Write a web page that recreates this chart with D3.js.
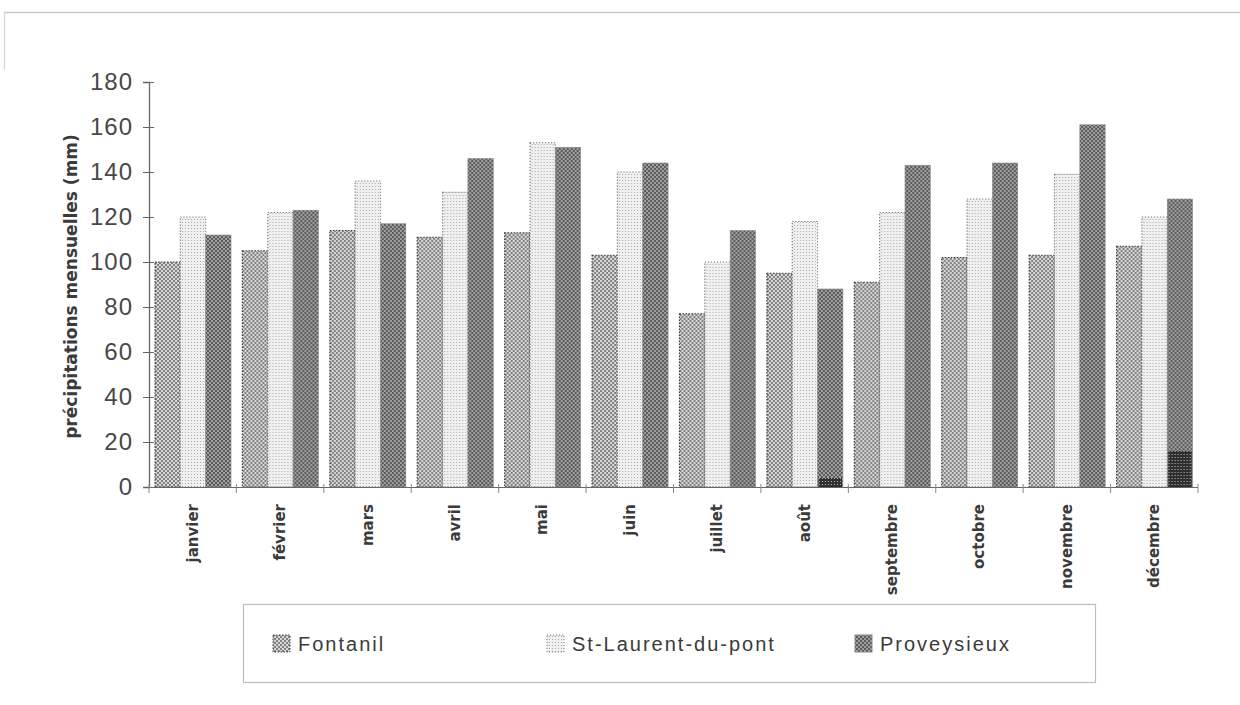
<!DOCTYPE html>
<html lang="fr">
<head>
<meta charset="utf-8">
<script src="https://cdn.jsdelivr.net/npm/d3@7"></script>
<style>
  html, body { margin: 0; padding: 0; background: #fff; }
  svg { display: block; }
</style>
</head>
<body>
<svg id="chart" width="1240" height="705"></svg>
<script>
// Précipitations mensuelles moyennes (mm) pour trois stations
const mois = ["janvier", "février", "mars", "avril", "mai", "juin",
              "juillet", "août", "septembre", "octobre", "novembre", "décembre"];
const stations = ["Fontanil", "St-Laurent-du-pont", "Proveysieux"];
const fontanil = [100, 105, 114, 111, 113, 103, 77, 95, 91, 102, 103, 107];
const stLaurent = [120, 122, 136, 131, 153, 140, 100, 118, 122, 128, 139, 120];
const proveysieux = [112, 123, 117, 146, 151, 144, 114, 88, 143, 144, 161, 128];
// petites portions sombres au pied des barres de Proveysieux
const proveysieuxBase = [0, 0, 0, 0, 0, 0, 0, 4, 0, 0, 0, 16];
const yTicks = [0, 20, 40, 60, 80, 100, 120, 140, 160, 180];

const serie = [fontanil, stLaurent, proveysieux];

const svg = d3.select("#chart");
const defs = svg.append("defs");

// Trames en demi-teinte pour chaque station
function trame(id, size, bg, dots, fg) {
  const p = defs.append("pattern").attr("id", id)
    .attr("patternUnits", "userSpaceOnUse")
    .attr("width", size).attr("height", size);
  p.append("rect").attr("width", size).attr("height", size).attr("fill", bg);
  dots.forEach(d => p.append("rect")
    .attr("x", d[0]).attr("y", d[1]).attr("width", d[2]).attr("height", d[2])
    .attr("fill", fg));
}
trame("t-fontanil", 4, "#d8d8d8", [[0, 0, 2], [2, 2, 2]], "#828282");
trame("t-stlaurent", 3, "#f0f0f0", [[0, 0, 1]], "#a9a9a9");
trame("t-proveysieux", 4, "#a0a0a0", [[0, 0, 2], [2, 2, 2]], "#5a5a5a");
trame("t-base", 3, "#2e2e2e", [[1, 1, 1]], "#bdbdbd");

const fills = ["url(#t-fontanil)", "url(#t-stlaurent)", "url(#t-proveysieux)"];
const strokes = ["#3c3c3c", "#777", "#8a8a8a"];
const dashes = ["1.5,1.5", "1.2,1.8", null];

// Cadre léger autour du graphique
svg.append("line").attr("x1", 4).attr("x2", 1240).attr("y1", 12.5).attr("y2", 12.5)
  .attr("stroke", "#c8c8c8").attr("stroke-width", 1.5);
svg.append("line").attr("x1", 4.5).attr("x2", 4.5).attr("y1", 12).attr("y2", 70)
  .attr("stroke", "#d6d6d6").attr("stroke-width", 1.2);

const plotLeft = 149, plotRight = 1198, plotTop = 82, plotBottom = 487;

const x0 = d3.scaleBand().domain(mois).range([plotLeft, plotRight]).padding(0);
const x1 = d3.scaleBand().domain(d3.range(3)).range([6, 82]).padding(0);
const y = d3.scaleLinear().domain([0, 180]).range([plotBottom, plotTop]);

// Barres
const groupes = svg.append("g").selectAll("g").data(mois).join("g")
  .attr("transform", d => `translate(${x0(d)},0)`);

groupes.selectAll("rect.barre")
  .data((m, i) => serie.map((s, k) => ({ k, v: s[i] })))
  .join("rect")
  .attr("class", "barre")
  .attr("x", d => x1(d.k))
  .attr("width", x1.bandwidth())
  .attr("y", d => y(d.v))
  .attr("height", d => y(0) - y(d.v))
  .attr("fill", d => fills[d.k])
  .attr("stroke", d => strokes[d.k])
  .attr("stroke-width", d => d.k === 2 ? 0.6 : 1.2)
  .attr("stroke-dasharray", d => dashes[d.k]);

groupes.filter((m, i) => proveysieuxBase[i] > 0)
  .append("rect")
  .attr("x", x1(2) + 1)
  .attr("width", x1.bandwidth() - 2)
  .attr("y", m => y(proveysieuxBase[mois.indexOf(m)]))
  .attr("height", m => y(0) - y(proveysieuxBase[mois.indexOf(m)]))
  .attr("fill", "url(#t-base)");

// Axe des ordonnées
const yAxis = svg.append("g")
  .attr("transform", `translate(${plotLeft},0)`)
  .call(d3.axisLeft(y).tickValues(yTicks).tickSize(6).tickPadding(10));
yAxis.select(".domain").attr("stroke", "#666").attr("stroke-width", 1.3);
yAxis.selectAll(".tick line").attr("x1", 5).attr("stroke", "#666");
yAxis.selectAll(".tick text")
  .attr("font-family", "'Liberation Sans', Arial, sans-serif")
  .attr("font-size", 24)
  .attr("letter-spacing", 1)
  .attr("fill", "#484848");

// Axe des abscisses
svg.append("line").attr("x1", plotLeft).attr("x2", plotRight)
  .attr("y1", plotBottom + 0.5).attr("y2", plotBottom + 0.5)
  .attr("stroke", "#666").attr("stroke-width", 1.2);
svg.append("g").selectAll("line")
  .data(d3.range(mois.length + 1))
  .join("line")
  .attr("x1", i => i < mois.length ? x0(mois[i]) : plotRight)
  .attr("x2", i => i < mois.length ? x0(mois[i]) : plotRight)
  .attr("y1", plotBottom - 3).attr("y2", plotBottom + 6)
  .attr("stroke", "#888");

svg.append("g").selectAll("text")
  .data(mois).join("text")
  .attr("transform", d => `translate(${x0(d) + x0.bandwidth() / 2 + 5},${plotBottom + 17}) rotate(-90)`)
  .attr("text-anchor", "end")
  .attr("font-family", "'DejaVu Sans', Verdana, sans-serif")
  .attr("font-size", 15)
  .attr("font-weight", "bold")
  .attr("fill", "#3a3a3a")
  .text(d => d);

// Titre de l'axe vertical
svg.append("text")
  .attr("transform", `translate(77,${(plotTop + plotBottom) / 2 + 2}) rotate(-90)`)
  .attr("text-anchor", "middle")
  .attr("font-family", "'DejaVu Sans', Verdana, sans-serif")
  .attr("font-size", 17)
  .attr("font-weight", "bold")
  .attr("fill", "#3a3a3a")
  .text("précipitations mensuelles (mm)");

// Légende
const leg = svg.append("g");
leg.append("rect").attr("x", 243.5).attr("y", 604.5).attr("width", 852).attr("height", 78)
  .attr("fill", "none").attr("stroke", "#bdbdbd").attr("stroke-width", 1.2);
const legX = [273, 547, 855];
stations.forEach((s, k) => {
  leg.append("rect").attr("x", legX[k]).attr("y", 635).attr("width", 17).attr("height", 17)
    .attr("fill", fills[k]).attr("stroke", strokes[k]).attr("stroke-width", 1)
    .attr("stroke-dasharray", dashes[k]);
  leg.append("text").attr("x", legX[k] + 25).attr("y", 651)
    .attr("font-family", "'Liberation Sans', Arial, sans-serif")
    .attr("font-size", 20)
    .attr("letter-spacing", 2)
    .attr("fill", "#3a3a3a")
    .text(s);
});
</script>
</body>
</html>
